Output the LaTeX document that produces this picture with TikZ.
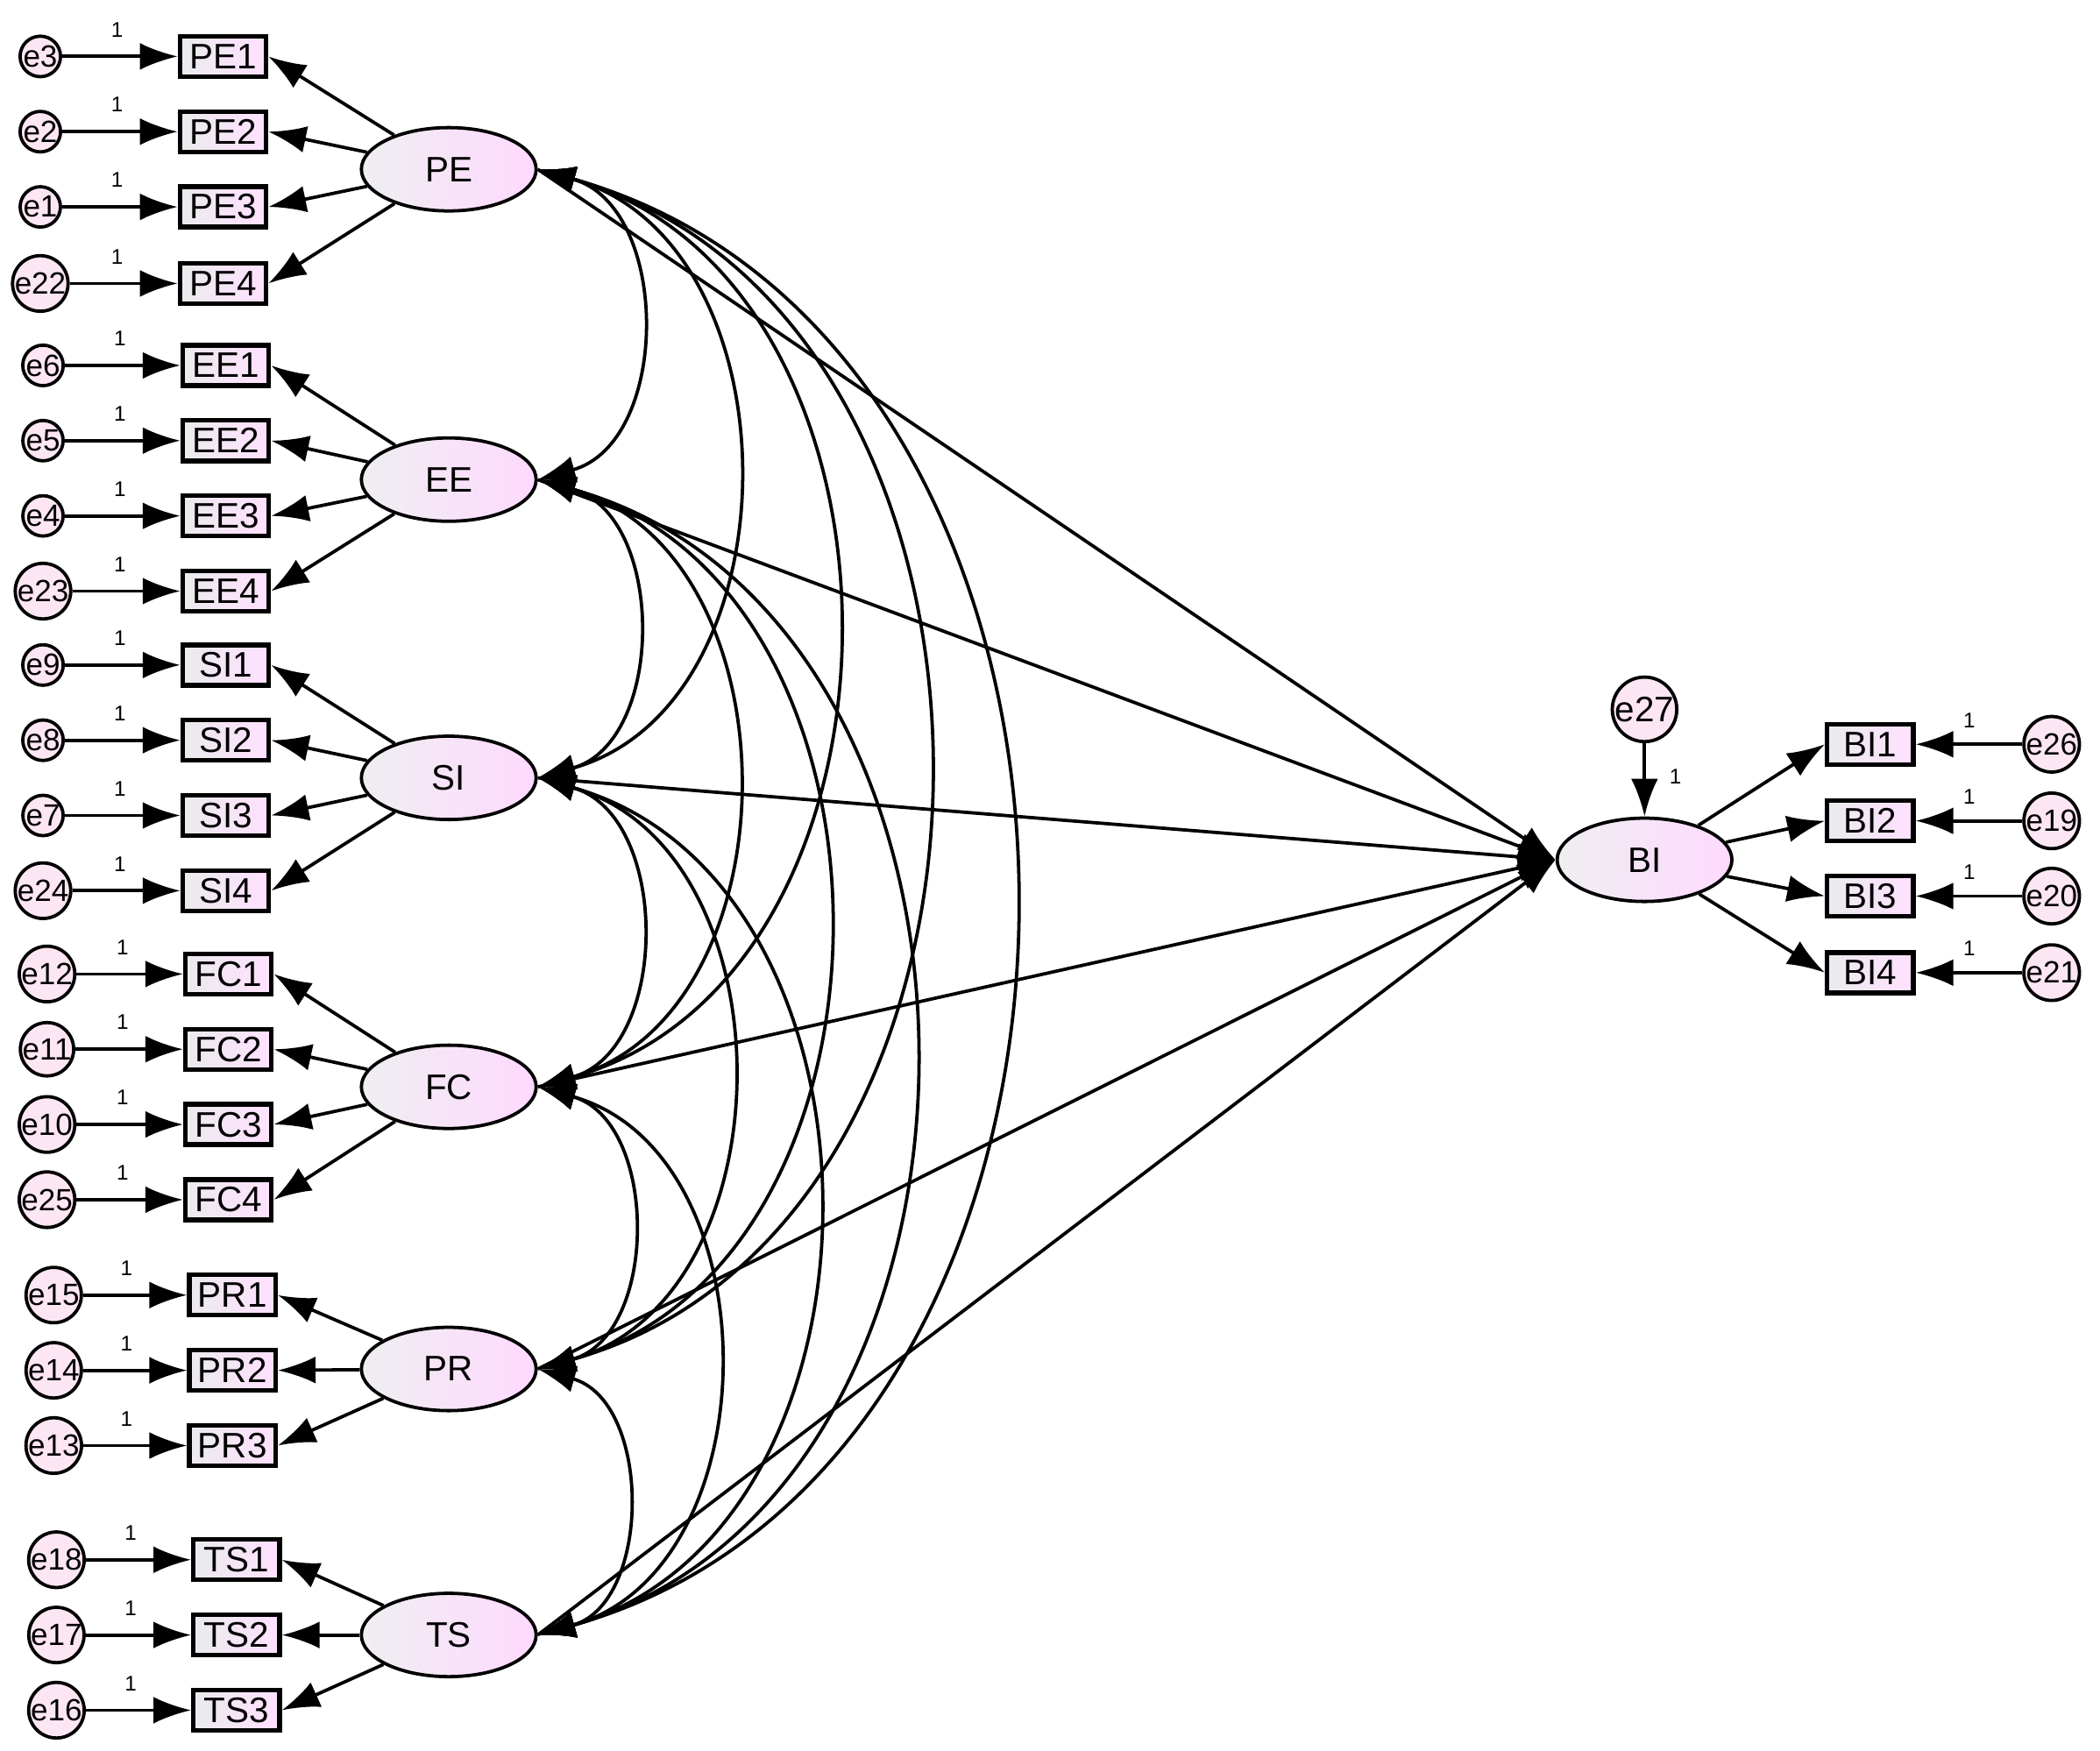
\documentclass[tikz,border=0pt]{standalone}
\usepackage{fontspec}
\setmainfont{Liberation Sans}
\usetikzlibrary{arrows.meta,calc,shapes.geometric}
\begin{document}
\begin{tikzpicture}[x=0.01cm,y=-0.01cm,
  lat/.style={ellipse,draw,line width=0.7pt,minimum width=1.3cm,minimum height=0.62cm,left color=blue!6!gray!12,right color=magenta!15,font=\fontsize{7.5}{9}\selectfont,inner sep=0pt},
  ind/.style={rectangle,draw,line width=1pt,minimum width=0.64cm,minimum height=0.3cm,inner sep=0pt,left color=blue!6!gray!15,right color=magenta!12,font=\fontsize{7.5}{9}\selectfont},
  err/.style={circle,draw,line width=0.7pt,minimum size=0.3cm,inner sep=0pt,fill=magenta!10,font=\fontsize{6.5}{8}\selectfont},
  arr/.style={line width=0.7pt,-{Latex[length=0.28cm,width=0.2cm]}},
  cov/.style={line width=0.7pt,{Latex[length=0.28cm,width=0.2cm]}-{Latex[length=0.28cm,width=0.2cm]}},
  one/.style={font=\fontsize{4.5}{5}\selectfont,inner sep=0pt}]
\useasboundingbox (0,0) rectangle (1563,1303);
% latent
\node[lat] (L1) at (334,126) {PE};
\node[lat] (L2) at (334,357) {EE};
\node[lat] (L3) at (334,579) {SI};
\node[lat] (L4) at (334,809) {FC};
\node[lat] (L5) at (334,1019) {PR};
\node[lat] (L6) at (334,1217) {TS};
\node[lat] (BI) at (1224,640) {BI};
% indicators
\foreach \n/\lat/\bx/\ex/\y/\e in {
 PE1/L1/166/30/42/e3, PE2/L1/166/30/98/e2, PE3/L1/166/30/154/e1, PE4/L1/166/30/211/e22,
 EE1/L2/168/32/272/e6, EE2/L2/168/32/328/e5, EE3/L2/168/32/384/e4, EE4/L2/168/32/440/e23,
 SI1/L3/168/32/495/e9, SI2/L3/168/32/551/e8, SI3/L3/168/32/607/e7, SI4/L3/168/32/663/e24,
 FC1/L4/170/35/725/e12, FC2/L4/170/35/781/e11, FC3/L4/170/35/837/e10, FC4/L4/170/35/893/e25,
 PR1/L5/173/40/964/e15, PR2/L5/173/40/1020/e14, PR3/L5/173/40/1076/e13,
 TS1/L6/176/42/1161/e18, TS2/L6/176/42/1217/e17, TS3/L6/176/42/1273/e16}{
  \node[ind] (\n) at (\bx,\y) {\n};
  \node[err] (\e) at (\ex,\y) {\e};
  \draw[arr] (\e) -- (\n.west);
  \node[one] at ($(\n.west)+(-45,-20)$) {1};
  \draw[arr] (\lat) -- (\n.east);
}
\foreach \n/\e/\y in {BI1/e26/554, BI2/e19/611, BI3/e20/667, BI4/e21/724}{
  \node[ind] (\n) at (1392,\y) {\n};
  \node[err] (\e) at (1527,\y) {\e};
  \draw[arr] (\e) -- (\n.east);
  \node[one] at ($(\n.east)+(40,-18)$) {1};
  \draw[arr] (BI) -- (\n.west);
}
\node[err,minimum size=0.48cm,font=\fontsize{7.5}{9}\selectfont] (e27) at (1224,528) {e27};
\draw[arr] (e27) -- (BI);
\node[one] at (1247,578) {1};
% covariances
\foreach \a/\ya in {1/126,2/357,3/579,4/809,5/1019,6/1217}{
 \foreach \b/\yb in {1/126,2/357,3/579,4/809,5/1019,6/1217}{
  \ifnum\b>\a
   \pgfmathsetmacro\d{0.43*(\yb-\ya)}
   \pgfmathsetmacro\ee{0.12*(\yb-\ya)}
   \draw[cov] (L\a.east) .. controls +(\d,\ee) and +(\d,-\ee) .. (L\b.east);
  \fi}}
% paths to BI
\foreach \a in {1,...,6}{\draw[arr] (L\a.east) -- (BI.west);}
\end{tikzpicture}
\end{document}
